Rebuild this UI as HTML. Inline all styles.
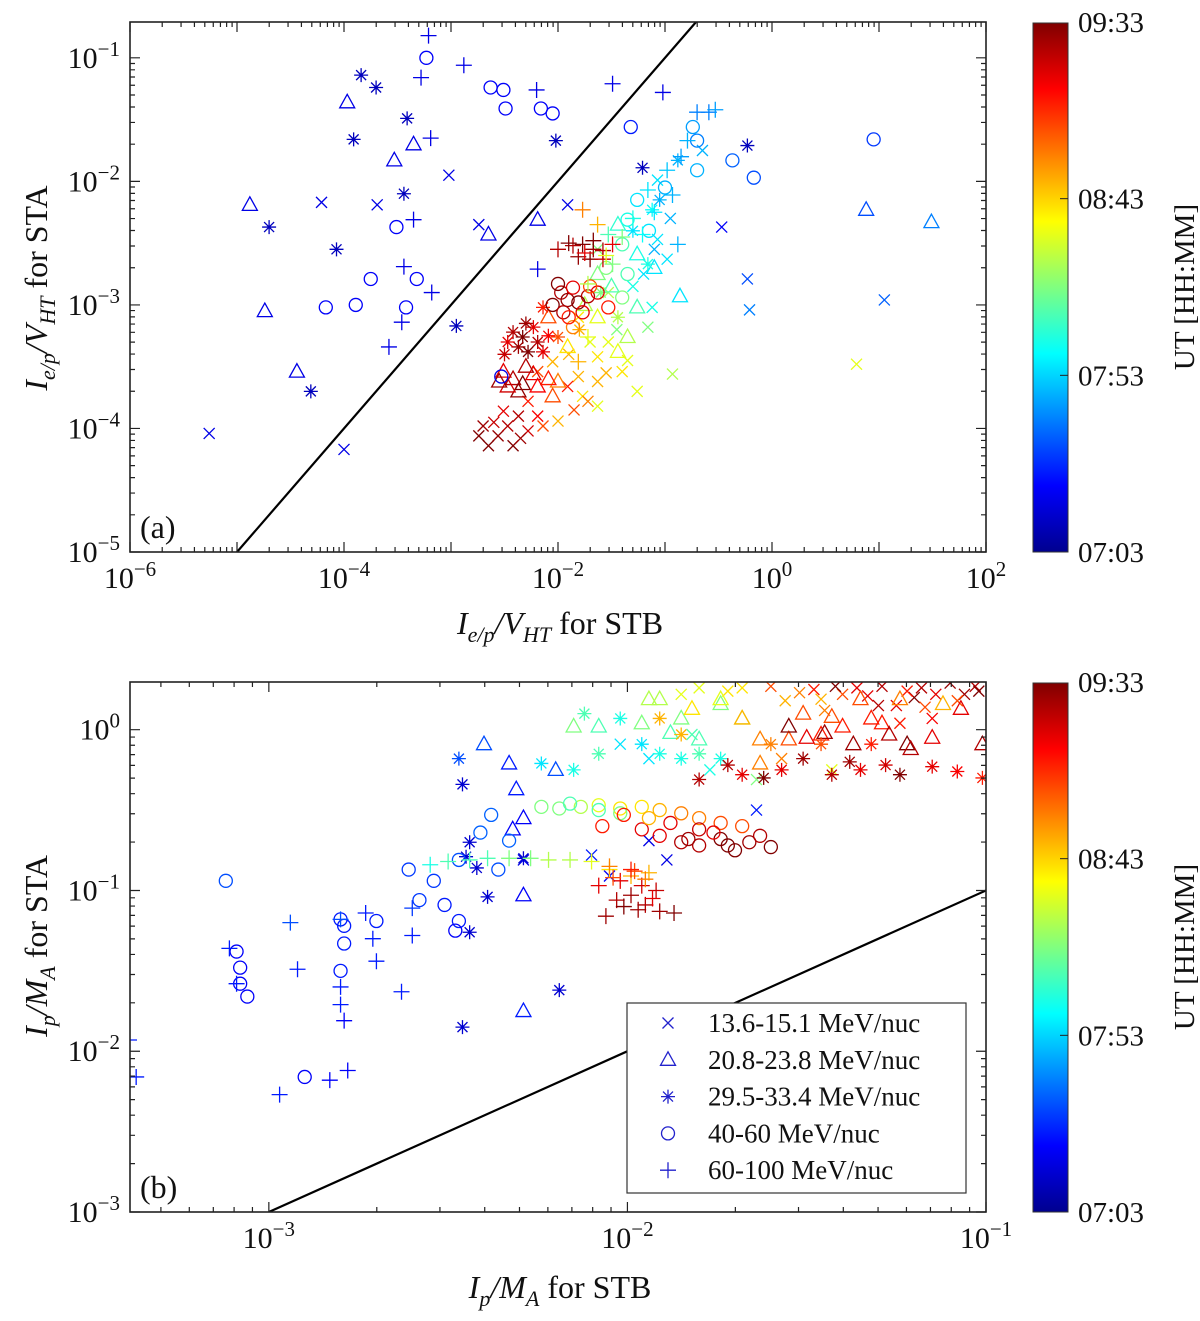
<!DOCTYPE html>
<html><head><meta charset="utf-8"><style>
html,body{margin:0;padding:0;background:#fff;}
svg, svg text{font-family:"Liberation Serif","DejaVu Serif",serif;}
</style></head><body>
<svg id="fig" width="1200" height="1316" viewBox="0 0 1200 1316" xmlns="http://www.w3.org/2000/svg" font-family="Liberation Serif, serif">
<defs>
<linearGradient id="jet" x1="0" y1="1" x2="0" y2="0">
<stop offset="0" stop-color="#00008f"/><stop offset="0.125" stop-color="#0000ff"/><stop offset="0.375" stop-color="#00ffff"/><stop offset="0.625" stop-color="#ffff00"/><stop offset="0.875" stop-color="#ff0000"/><stop offset="1" stop-color="#800000"/>
</linearGradient>
<clipPath id="clipA"><rect x="130" y="22" width="856" height="530"/></clipPath>
<clipPath id="clipB"><rect x="130" y="682" width="856" height="530"/></clipPath>
</defs>
<g id="layer"></g>
</svg>
<script>
// ---- Panel (a) data: [log10 STB, log10 STA, time fraction 0(07:03)..1(09:33)]
const aCross = [[-5.26,-4.04,.1],[-4.21,-2.17,.1],[-3.69,-2.19,.1],[-3.02,-1.95,.1],[-2.74,-2.35,.1],[-4.0,-4.17,.1],[-1.91,-2.19,.1],[-0.47,-2.37,.12],[-0.23,-2.79,.2],[-0.21,-3.04,.25],[1.05,-2.96,.22],[0.79,-3.48,.6],[-0.93,-3.56,.55],
[-0.65,-1.75,.3],[-1.07,-1.99,.35],[-1.07,-2.47,.35],[-1.63,-2.55,.5],[-0.98,-2.63,.35],[-1.53,-2.90,.55],[-1.12,-3.02,.4],[-1.81,-3.10,.65],[-1.53,-3.30,.6],[-1.16,-3.18,.5],[-2.05,-3.46,.7],[-1.63,-3.42,.65],[-2.19,-3.54,.8],[-1.81,-3.58,.7],[-1.63,-3.62,.7],[-1.40,-3.54,.65],[-1.26,-3.70,.6],[-1.63,-3.82,.6],[-1.77,-3.74,.65],
[-2.65,-4.14,1],[-2.56,-4.06,.98],[-2.47,-3.98,.95],[-2.37,-3.90,.95],[-2.70,-3.98,.97],[-2.51,-3.86,.9],[-2.28,-4.02,.92],[-2.42,-4.14,1],[-2.19,-3.90,.88],[-2.74,-4.06,1],
[-1.91,-3.66,.85],[-2.28,-3.78,.85],[-2.14,-3.98,.8],[-1.72,-3.78,.75],[-2.0,-3.94,.7],
[-1.45,-3.20,.5],[-1.30,-2.85,.4],[-1.20,-2.75,.35],[-1.55,-3.55,.7],[-1.35,-3.45,.6],[-1.85,-3.85,.8],[-2.35,-4.08,.97],[-2.60,-3.95,.93],[-1.70,-3.30,.6],[-1.10,-2.55,.3],[-0.95,-2.30,.3],[-1.90,-3.40,.7]];
const aTri = [[-3.97,-1.36,.1],[-4.88,-2.19,.1],[-4.74,-3.05,.1],[-4.44,-3.54,.1],[-3.35,-1.70,.1],[-3.53,-1.83,.1],[-2.19,-2.31,.1],[-2.65,-2.43,.1],[0.88,-2.23,.2],[1.49,-2.33,.25],[-0.86,-2.93,.35],
[-1.44,-2.35,.42],[-1.26,-2.59,.4],[-1.63,-2.75,.5],[-1.26,-3.02,.45],[-1.63,-3.10,.6],[-1.35,-3.26,.55],[-1.91,-3.34,.65],[-1.44,-3.38,.6],[-2.0,-3.62,.75],
[-2.51,-3.54,.9],[-2.42,-3.60,.95],[-2.33,-3.64,1],[-2.23,-3.56,.9],[-2.37,-3.70,.98],[-2.19,-3.66,.88],[-2.09,-3.60,.85],[-2.47,-3.66,.92],
[-2.09,-3.10,.8],[-2.05,-3.74,.8],[-1.75,-3.00,.55],[-1.50,-2.85,.45],[-1.10,-2.70,.35],[-2.30,-3.50,.95],[-2.55,-3.62,.97]];
const aStar = [[-3.84,-1.14,.06],[-3.70,-1.24,.06],[-3.91,-1.66,.06],[-3.41,-1.49,.06],[-3.44,-2.10,.06],[-4.70,-2.37,.06],[-4.07,-2.55,.06],[-4.31,-3.70,.06],[-2.95,-3.17,.06],[-2.02,-1.67,.06],[-1.21,-1.89,.06],[-0.23,-1.71,.06],
[-0.88,-1.83,.3],[-1.12,-2.23,.38],[-1.16,-2.67,.4],[-1.44,-3.10,.55],
[-2.42,-3.22,.95],[-2.33,-3.26,1],[-2.23,-3.18,.9],[-2.19,-3.30,.95],[-2.09,-3.25,.88],[-2.37,-3.34,.97],[-2.28,-3.38,1],[-2.14,-3.38,.9],[-2.47,-3.30,.9],
[-2.0,-3.26,.8],[-2.14,-3.02,.85],[-1.60,-2.90,.5],[-1.30,-2.40,.35],[-1.05,-2.15,.3],[-1.80,-3.20,.7],[-2.30,-3.15,.97],[-2.50,-3.40,.93]];
const aCirc = [[-3.23,-1.0,.12],[-2.63,-1.24,.12],[-2.51,-1.26,.12],[-2.49,-1.41,.12],[-2.16,-1.41,.12],[-2.05,-1.45,.12],[-3.51,-2.37,.12],[-3.75,-2.79,.12],[-3.89,-3.0,.12],[-4.17,-3.02,.12],[-3.32,-2.79,.12],[-3.42,-3.02,.12],[0.95,-1.66,.18],[-1.32,-1.56,.15],[-0.70,-1.67,.25],[-0.37,-1.83,.22],[-0.17,-1.97,.2],[-2.53,-3.58,.1],
[-0.74,-1.56,.28],[-0.70,-1.91,.3],[-1.26,-2.15,.35],[-1.35,-2.31,.4],[-1.40,-2.51,.45],[-1.35,-2.75,.45],[-1.40,-2.94,.5],
[-1.97,-2.90,.95],[-1.91,-2.96,.98],[-1.81,-2.98,1],[-1.72,-2.93,.95],[-1.63,-2.90,.9],[-1.86,-2.86,.9],[-2.05,-3.0,1],[-1.95,-3.06,.95],[-1.77,-3.06,.9],[-1.53,-3.02,.85],[-2.0,-2.83,1],
[-1.86,-3.18,.75],[-1.55,-2.70,.5],[-1.15,-2.40,.35],[-1.00,-2.05,.3],[-1.70,-2.85,.8],[-1.90,-3.10,.85]];
const aPlus = [[-3.21,-0.82,.1],[-2.88,-1.06,.1],[-2.20,-1.26,.1],[-1.49,-1.21,.1],[-1.02,-1.28,.1],[-3.28,-1.16,.1],[-3.19,-1.65,.1],[-3.35,-2.31,.1],[-3.44,-2.69,.1],[-3.46,-3.14,.1],[-3.58,-3.34,.1],[-3.18,-2.90,.1],[-2.19,-2.71,.1],
[-0.70,-1.44,.25],[-0.59,-1.44,.25],[-0.53,-1.42,.28],[-0.79,-1.67,.3],[-0.98,-1.91,.32],[-1.16,-2.07,.35],[-0.93,-2.11,.3],[-1.21,-2.43,.38],[-1.53,-2.43,.45],[-1.49,-2.67,.5],[-0.88,-2.51,.3],[-1.72,-2.83,.55],[-1.72,-3.26,.6],[-1.81,-3.46,.7],[-1.77,-2.23,.75],[-1.63,-2.35,.7],
[-1.86,-2.52,.95],[-1.77,-2.51,1],[-1.67,-2.55,.97],[-1.58,-2.56,.95],[-1.81,-2.61,.98],[-1.70,-2.63,1],[-1.58,-2.63,.93],[-2.0,-2.55,.95],[-1.49,-2.51,.9],[-1.67,-2.48,1],
[-1.40,-2.45,.5],[-1.30,-2.30,.4],[-1.10,-2.25,.35],[-0.85,-1.80,.28],[-1.55,-2.60,.6],[-1.75,-2.58,.9],[-1.90,-2.50,1]];

// ---- Panel (b) data
const bCross = [[-2.29,-0.81,.1],[-1.94,-0.69,.1],[-2.10,-0.78,.15],[-2.05,-0.91,.12],[-1.89,-0.81,.1],[-1.64,-0.50,.15],
[-2.02,-0.09,.35],[-1.94,-0.18,.35],[-1.82,-0.03,.45],[-1.77,-0.25,.4],
[-1.80,0.26,.6],[-1.68,0.26,.65],[-1.46,0.19,.7],[-1.29,0.27,.95],[-1.18,0.26,.95],[-1.10,0.29,.98],[-1.03,0.27,.95],[-1.36,0.26,.9],[-1.57,-0.18,.75],[-1.43,-0.25,.6],[-1.64,-0.31,.5],
[-1.24,0.04,.85],[-1.15,0.07,.88],[-1.40,0.22,.8],[-1.20,0.20,1],[-1.06,0.22,.97],[-1.52,0.23,.75],[-1.25,0.15,.9],
[-1.85,0.22,.6],[-1.72,0.24,.65],[-1.60,0.27,.8],[-1.48,0.25,.85],[-1.42,0.27,1],[-1.33,0.21,.9],[-1.22,0.24,.85],[-1.14,0.22,.9],[-1.08,0.18,.8],[-1.02,0.24,1],[-1.56,0.18,.7],[-1.30,0.15,.95],[-1.17,0.14,.8],[-1.45,0.12,.75]];
const bTri = [[-2.40,-0.09,.2],[-2.33,-0.21,.15],[-2.31,-0.37,.15],[-2.29,-0.55,.12],[-2.32,-0.62,.12],[-2.29,-1.75,.15],[-2.29,-1.03,.12],[-2.20,-0.25,.2],
[-2.08,0.02,.45],[-1.96,0.04,.5],[-1.91,0.19,.55],[-1.85,0.07,.5],[-1.80,-0.06,.45],[-1.74,0.16,.5],[-1.68,0.07,.55],
[-1.63,-0.21,.75],[-1.55,-0.06,.8],[-1.46,-0.03,.85],[-1.35,0.19,.8],[-1.29,0.04,.85],[-1.24,0.19,.75],[-1.12,0.16,.7],[-1.07,0.13,.9],[-1.22,-0.09,1],[-1.37,-0.09,.97],[-1.21,-0.12,.95],[-1.01,-0.09,.95],[-1.74,0.19,.6],
[-1.94,0.19,.55],[-1.82,0.13,.65],[-1.68,0.07,.7],[-1.63,-0.06,.75],[-1.51,0.10,.8],[-1.43,0.08,.8],[-1.32,0.07,.85],[-1.55,0.02,1],[-1.45,-0.02,.97],
[-2.15,0.02,.5],[-1.88,-0.02,.45],[-1.50,-0.05,.9],[-1.40,0.02,.85],[-1.27,-0.03,.95],[-1.15,-0.05,.9]];
const bStar = [[-2.46,-0.34,.08],[-2.44,-0.70,.08],[-2.45,-0.79,.08],[-2.42,-0.86,.08],[-2.44,-1.26,.08],[-2.39,-1.04,.08],[-2.46,-1.85,.08],[-2.19,-1.62,.08],[-1.89,-1.80,.1],[-2.29,-0.80,.08],[-2.47,-0.18,.2],
[-2.24,-0.21,.35],[-2.15,-0.25,.4],[-2.08,-0.15,.45],[-2.12,0.10,.45],[-2.02,0.07,.4],[-1.96,-0.09,.35],[-1.91,-0.15,.4],[-1.85,-0.18,.4],[-1.80,-0.15,.45],[-1.74,-0.18,.4],
[-1.80,-0.31,.95],[-1.68,-0.28,.9],[-1.57,-0.25,.9],[-1.51,-0.18,.97],[-1.43,-0.28,.95],[-1.35,-0.25,.9],[-1.24,-0.28,1],[-1.15,-0.23,.9],[-1.08,-0.26,.88],[-1.01,-0.30,.85],[-1.32,-0.09,.85],[-1.46,-0.09,.8],[-1.60,-0.09,.75],[-1.85,-0.03,.7],[-1.91,0.07,.7],
[-1.72,-0.22,.95],[-1.62,-0.30,1],[-1.38,-0.20,.97],[-1.28,-0.22,.92]];
const bCirc = [[-3.12,-0.94,.2],[-3.09,-1.38,.12],[-3.08,-1.48,.12],[-3.08,-1.58,.12],[-3.06,-1.66,.12],[-2.90,-2.16,.12],[-2.80,-1.18,.15],[-2.79,-1.22,.15],[-2.79,-1.33,.15],[-2.80,-1.50,.15],[-2.70,-1.19,.15],[-2.61,-0.87,.18],[-2.58,-1.06,.18],[-2.51,-1.09,.15],[-2.47,-1.19,.15],[-2.48,-1.25,.12],[-2.54,-0.94,.18],[-2.47,-0.81,.2],[-2.36,-0.87,.2],[-2.33,-0.69,.22],[-2.41,-0.64,.22],[-2.38,-0.53,.22],
[-2.24,-0.48,.5],[-2.19,-0.49,.5],[-2.13,-0.48,.55],[-2.08,-0.47,.6],[-2.02,-0.49,.65],[-1.96,-0.48,.65],[-1.91,-0.50,.7],[-1.85,-0.52,.75],[-1.80,-0.55,.75],[-1.74,-0.58,.8],[-1.68,-0.60,.8],[-2.08,-0.50,.45],[-2.02,-0.52,.5],
[-2.07,-0.60,.85],[-2.01,-0.53,.85],[-1.96,-0.62,.9],[-1.91,-0.66,.9],[-1.85,-0.70,.95],[-1.80,-0.72,.95],[-1.74,-0.68,1],[-1.70,-0.75,1],[-1.66,-0.70,.97],[-1.60,-0.73,1],[-1.80,-0.62,.93],[-1.88,-0.58,.9],
[-2.16,-0.46,.45],[-1.94,-0.55,.7],[-1.76,-0.64,.9],[-1.72,-0.72,1],[-1.83,-0.68,.97],[-1.63,-0.66,.95]];
const bPlus = [[-3.39,-1.93,.15],[-3.37,-2.16,.15],[-3.11,-1.36,.15],[-3.09,-1.58,.15],[-2.97,-2.27,.15],[-2.94,-1.20,.2],[-2.92,-1.49,.15],[-2.83,-2.18,.12],[-2.80,-1.18,.2],[-2.80,-1.60,.15],[-2.80,-1.71,.15],[-2.79,-1.81,.12],[-2.78,-2.12,.12],[-2.73,-1.14,.15],[-2.71,-1.30,.15],[-2.70,-1.44,.15],[-2.60,-1.11,.18],[-2.60,-1.28,.15],[-2.63,-1.63,.15],
[-2.55,-0.84,.4],[-2.50,-0.82,.45],[-2.44,-0.81,.45],[-2.39,-0.80,.45],[-2.33,-0.80,.5],[-2.27,-0.80,.5],[-2.22,-0.81,.55],[-2.16,-0.81,.55],[-2.10,-0.82,.6],[-2.05,-0.87,.65],[-1.99,-0.91,.7],[-1.94,-0.89,.7],[-2.05,-0.85,.75],[-1.98,-0.88,.8],
[-2.08,-0.97,.9],[-2.03,-1.06,.95],[-1.99,-1.03,.97],[-1.95,-1.09,.95],[-1.91,-1.13,.97],[-1.87,-1.14,1],[-2.02,-0.94,.9],[-1.96,-0.97,.92],[-1.92,-1.00,.93],[-2.06,-1.16,.97],[-1.99,-0.87,.85],
[-2.01,-1.10,1],[-1.97,-1.12,.97],[-1.93,-1.05,.9],[-2.04,-0.92,.8],[-1.95,-0.93,.75]];

const timeTicks = ['07:03','07:53','08:43','09:33'];
const legendLabels = ['13.6-15.1 MeV/nuc','20.8-23.8 MeV/nuc','29.5-33.4 MeV/nuc','40-60 MeV/nuc','60-100 MeV/nuc'];
const aXTicks = [-6,-4,-2,0,2];
const aYTicks = [-5,-4,-3,-2,-1];
const bXTicks = [-3,-2,-1];
const bYTicks = [-3,-2,-1,0];

const NS='http://www.w3.org/2000/svg';
const FONT='Liberation Serif, DejaVu Serif, serif';
const root=document.getElementById('layer');
function mk(tag,attrs,parent){const e=document.createElementNS(NS,tag);for(const k in attrs)e.setAttribute(k,attrs[k]);if(tag==='text')e.setAttribute('font-family',FONT);(parent||root).appendChild(e);return e;}
function jet(t){const c=v=>Math.round(255*Math.max(0,Math.min(1,v)));
  const r=1.5-Math.abs(4*t-3),g=1.5-Math.abs(4*t-2),b=1.5-Math.abs(4*t-1);
  return 'rgb('+c(r)+','+c(g)+','+c(b)+')';}

const panels=[
 {id:'a',L:130,R:986,T:22,B:552,x0:-6,x1:2,y0:Math.log10(0.195),y1:-5,clip:'clipA',
  xt:aXTicks,yt:aYTicks,series:[aCross,aTri,aStar,aCirc,aPlus]},
 {id:'b',L:130,R:986,T:682,B:1212,x0:Math.log10(0.00041),x1:-1,y0:Math.log10(1.98),y1:-3,clip:'clipB',
  xt:bXTicks,yt:bYTicks,series:[bCross,bTri,bStar,bCirc,bPlus]}];

function marker(g,kind,cx,cy,col){
  let e;
  if(kind===0){e=mk('path',{d:`M${cx-5.5},${cy-5.5}L${cx+5.5},${cy+5.5}M${cx-5.5},${cy+5.5}L${cx+5.5},${cy-5.5}`,stroke:col,'stroke-width':1.3,fill:'none'},g);}
  else if(kind===1){e=mk('path',{d:`M${cx},${cy-8}L${cx+7.5},${cy+5.5}L${cx-7.5},${cy+5.5}Z`,stroke:col,'stroke-width':1.3,fill:'none'},g);}
  else if(kind===2){e=mk('path',{d:`M${cx-7},${cy}L${cx+7},${cy}M${cx},${cy-7}L${cx},${cy+7}M${cx-5},${cy-5}L${cx+5},${cy+5}M${cx-5},${cy+5}L${cx+5},${cy-5}`,stroke:col,'stroke-width':1.3,fill:'none'},g);}
  else if(kind===3){e=mk('circle',{cx:cx,cy:cy,r:6.5,stroke:col,'stroke-width':1.3,fill:'none'},g);}
  else {e=mk('path',{d:`M${cx-8},${cy}L${cx+8},${cy}M${cx},${cy-8}L${cx},${cy+8}`,stroke:col,'stroke-width':1.3,fill:'none'},g);}
  return e;}

const seriesNames=['cross-13-15-mev','triangle-20-23-mev','asterisk-29-33-mev','circle-40-60-mev','plus-60-100-mev'];
const sup=n=>(n<0?'\u2212':'')+Math.abs(n);

panels.forEach(p=>{
  const sx=v=>p.L+(v-p.x0)/(p.x1-p.x0)*(p.R-p.L);
  const sy=v=>p.T+(v-p.y0)/(p.y1-p.y0)*(p.B-p.T);
  const pg=mk('g',{});
  
  
  const dg=mk('g',{'clip-path':'url(#'+p.clip+')'},pg);
  
  
  p.series.forEach((s,k)=>{
    const sg=mk('g',{},dg);
    
    
    s.forEach(d=>{const m=marker(sg,k,sx(d[0]),sy(d[1]),jet(d[2]));
      
      });
  });
  const lo=Math.max(p.x0,p.y1),hi=Math.min(p.x1,p.y0);
  const ln=mk('line',{x1:sx(lo),y1:sy(lo),x2:sx(hi),y2:sy(hi),stroke:'#000','stroke-width':2.2,'clip-path':'url(#'+p.clip+')'},pg);
  
  
  const bx=mk('rect',{x:p.L,y:p.T,width:p.R-p.L,height:p.B-p.T,fill:'none',stroke:'#222','stroke-width':1.6},pg);
  
  
  let td='';
  for(let d=Math.floor(p.x0);d<=Math.ceil(p.x1);d++)for(let m=1;m<10;m++){const v=d+Math.log10(m);if(v<p.x0-1e-6||v>p.x1+1e-6)continue;const L=m===1?10:5;const X=sx(v);td+=`M${X},${p.B}v${-L}M${X},${p.T}v${L}`;}
  for(let d=Math.floor(p.y1);d<=Math.ceil(p.y0);d++)for(let m=1;m<10;m++){const v=d+Math.log10(m);if(v<p.y1-1e-6||v>p.y0+1e-6)continue;const L=m===1?10:5;const Y=sy(v);td+=`M${p.L},${Y}h${L}M${p.R},${Y}h${-L}`;}
  const tk=mk('path',{d:td,stroke:'#222','stroke-width':1.2,fill:'none'},pg);
  
  
  p.xt.forEach(v=>{const t=mk('text',{x:sx(v),y:p.B+36,'text-anchor':'middle','font-size':30,fill:'#111'},pg);
    
    
    t.innerHTML='10<tspan dy="-12" font-size="21">'+sup(v)+'</tspan>';});
  p.yt.forEach(v=>{const t=mk('text',{x:120,y:sy(v)+10,'text-anchor':'end','font-size':30,fill:'#111'},pg);
    
    
    t.innerHTML='10<tspan dy="-12" font-size="21">'+sup(v)+'</tspan>';});
  const pl=mk('text',{x:140,y:p.B-14,'font-size':32,fill:'#111'},pg);
  
  
  pl.textContent='('+p.id+')';
  const cb=mk('rect',{x:1033,y:p.T+1,width:35,height:p.B-p.T-1,fill:'url(#jet)',stroke:'#333','stroke-width':1},pg);
  
  
  timeTicks.forEach((s,i)=>{const Y=p.B-i/3*(p.B-p.T);
    if(i>0&&i<3){const l=mk('line',{x1:1060,x2:1068,y1:Y,y2:Y,stroke:'#222','stroke-width':1},pg);
      
      }
    const t=mk('text',{x:1078,y:Y+10,'font-size':29,fill:'#111'},pg);
    
    
    t.textContent=s;});
  const ct=mk('text',{x:0,y:0,'font-size':29,fill:'#111','text-anchor':'middle',transform:`translate(1194,${(p.T+p.B)/2}) rotate(-90)`},pg);
  
  
  ct.textContent='UT [HH:MM]';
});

function title(name,x,y,rot,html){const t=mk('text',{x:0,y:0,'font-size':32,fill:'#111','text-anchor':'middle',transform:`translate(${x},${y})`+(rot?' rotate(-90)':'')});
  
  
  t.innerHTML=html;}
title('x-axis-title-a',560,634,false,'<tspan font-style="italic">I</tspan><tspan font-style="italic" font-size="22" dy="8">e/p</tspan><tspan dy="-8" font-style="italic">/V</tspan><tspan font-style="italic" font-size="22" dy="8">HT</tspan><tspan dy="-8"> for STB</tspan>');
title('y-axis-title-a',47,288,true,'<tspan font-style="italic">I</tspan><tspan font-style="italic" font-size="22" dy="8">e/p</tspan><tspan dy="-8" font-style="italic">/V</tspan><tspan font-style="italic" font-size="22" dy="8">HT</tspan><tspan dy="-8"> for STA</tspan>');
title('x-axis-title-b',560,1298,false,'<tspan font-style="italic">I</tspan><tspan font-style="italic" font-size="22" dy="8">p</tspan><tspan dy="-8" font-style="italic">/M</tspan><tspan font-style="italic" font-size="22" dy="8">A</tspan><tspan dy="-8"> for STB</tspan>');
title('y-axis-title-b',47,946,true,'<tspan font-style="italic">I</tspan><tspan font-style="italic" font-size="22" dy="8">p</tspan><tspan dy="-8" font-style="italic">/M</tspan><tspan font-style="italic" font-size="22" dy="8">A</tspan><tspan dy="-8"> for STA</tspan>');

const lg=mk('g',{});


mk('rect',{x:627,y:1003,width:339,height:190,fill:'#fff',stroke:'#333','stroke-width':1.2},lg);
legendLabels.forEach((s,i)=>{const Y=1023+i*36.8;
  const eg=mk('g',{},lg);
  
  
  marker(eg,i,668,Y,'#2222cc');
  const t=mk('text',{x:708,y:Y+9,'font-size':27,fill:'#111'},eg);
  t.textContent=s;});
</script>
</body></html>
